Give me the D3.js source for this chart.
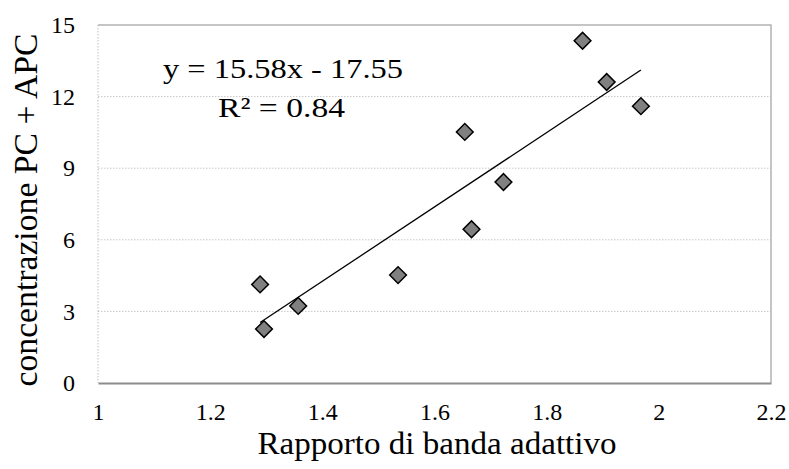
<!DOCTYPE html>
<meta charset="utf-8">
<style>
html, body { margin: 0; padding: 0; background: #fff; }
svg { display: block; font-family: "Liberation Serif", "Times New Roman", serif; }
.grid line { stroke: #c8c8c8; stroke-width: 1; stroke-dasharray: 1.5,1.5; }
.tick text { fill: #000; font-family: "Liberation Serif", serif; }
</style>
<div id="chart"></div>
<script src="https://cdn.jsdelivr.net/npm/d3@7"></script>
<script>

// data
var ratio = [1.289, 1.296, 1.357, 1.535, 1.654, 1.666, 1.723, 1.864, 1.907, 1.968];
var conc  = [4.13, 2.26, 3.23, 4.52, 10.52, 6.44, 8.42, 14.34, 12.61, 11.60];
var xTicks = [1, 1.2, 1.4, 1.6, 1.8, 2, 2.2];
var yTicks = [0, 3, 6, 9, 12, 15];
var fit = {slope: 15.58, intercept: -17.55, r2: 0.84};

var width = 789, height = 469;
var plot = {left: 98, right: 771, top: 25, bottom: 383};

var svg = d3.select("#chart").append("svg")
    .attr("width", width)
    .attr("height", height);

var x = d3.scaleLinear().domain([1, 2.2]).range([plot.left, plot.right]);
var y = d3.scaleLinear().domain([0, 15]).range([plot.bottom, plot.top]);

// horizontal gridlines
svg.append("g")
    .attr("class", "grid")
  .selectAll("line")
    .data(yTicks.filter(function(d) { return d > 0 && d < 15; }))
  .enter().append("line")
    .attr("x1", plot.left).attr("x2", plot.right)
    .attr("y1", function(d) { return y(d); })
    .attr("y2", function(d) { return y(d); });

// plot frame: top/right solid, left dotted
svg.append("path")
    .attr("d", "M" + plot.left + "," + plot.top + "H" + plot.right + "V" + plot.bottom)
    .attr("fill", "none")
    .attr("stroke", "#b3b3b3")
    .attr("stroke-width", 1.5);
svg.append("line")
    .attr("x1", plot.left).attr("x2", plot.left)
    .attr("y1", plot.top).attr("y2", plot.bottom)
    .attr("stroke", "#c0c0c0")
    .attr("stroke-dasharray", "1.5,1.5");

// x axis
var xAxis = svg.append("g")
    .attr("transform", "translate(0," + plot.bottom + ")")
    .call(d3.axisBottom(x).tickValues(xTicks).tickSize(0).tickPadding(20)
      .tickFormat(function(d) { return String(+d.toFixed(1)); }));
xAxis.select(".domain").attr("stroke", "#8c8c8c").attr("stroke-width", 2);
xAxis.selectAll("text").style("font-size", "24px");

// y axis (labels only)
var yAxis = svg.append("g")
    .attr("transform", "translate(" + plot.left + ",0)")
    .call(d3.axisLeft(y).tickValues(yTicks).tickSize(0).tickPadding(23));
yAxis.select(".domain").remove();
yAxis.selectAll("text").style("font-size", "24px");

// trend line
var xr = d3.extent(ratio);
svg.append("line")
    .attr("x1", x(xr[0])).attr("y1", y(fit.slope * xr[0] + fit.intercept))
    .attr("x2", x(xr[1])).attr("y2", y(fit.slope * xr[1] + fit.intercept))
    .attr("stroke", "#000")
    .attr("stroke-width", 1.3);

// diamond markers
var diamond = d3.symbol().type(d3.symbolSquare).size(140);
svg.append("g")
  .selectAll("path")
    .data(d3.range(ratio.length))
  .enter().append("path")
    .attr("d", diamond)
    .attr("transform", function(i) {
      return "translate(" + x(ratio[i]) + "," + y(conc[i]) + ") rotate(45)";
    })
    .attr("fill", "#808080")
    .attr("stroke", "#000")
    .attr("stroke-width", 1.5);

// equation label
svg.append("text")
    .attr("x", 283).attr("y", 78)
    .attr("text-anchor", "middle")
    .attr("textLength", 240)
    .attr("lengthAdjust", "spacingAndGlyphs")
    .style("font-size", "28px")
    .text("y = " + fit.slope.toFixed(2) + "x - " + Math.abs(fit.intercept).toFixed(2));
svg.append("text")
    .attr("x", 281.5).attr("y", 117)
    .attr("text-anchor", "middle")
    .attr("textLength", 127)
    .attr("lengthAdjust", "spacingAndGlyphs")
    .style("font-size", "28px")
    .text("R² = " + fit.r2.toFixed(2));

// axis titles
svg.append("text")
    .attr("x", 437).attr("y", 454)
    .attr("text-anchor", "middle")
    .attr("textLength", 359)
    .attr("lengthAdjust", "spacingAndGlyphs")
    .style("font-size", "32px")
    .text("Rapporto di banda adattivo");

svg.append("text")
    .attr("transform", "translate(37,210) rotate(-90)")
    .attr("text-anchor", "middle")
    .attr("textLength", 353)
    .attr("lengthAdjust", "spacingAndGlyphs")
    .style("font-size", "33px")
    .text("concentrazione PC + APC");

</script>
